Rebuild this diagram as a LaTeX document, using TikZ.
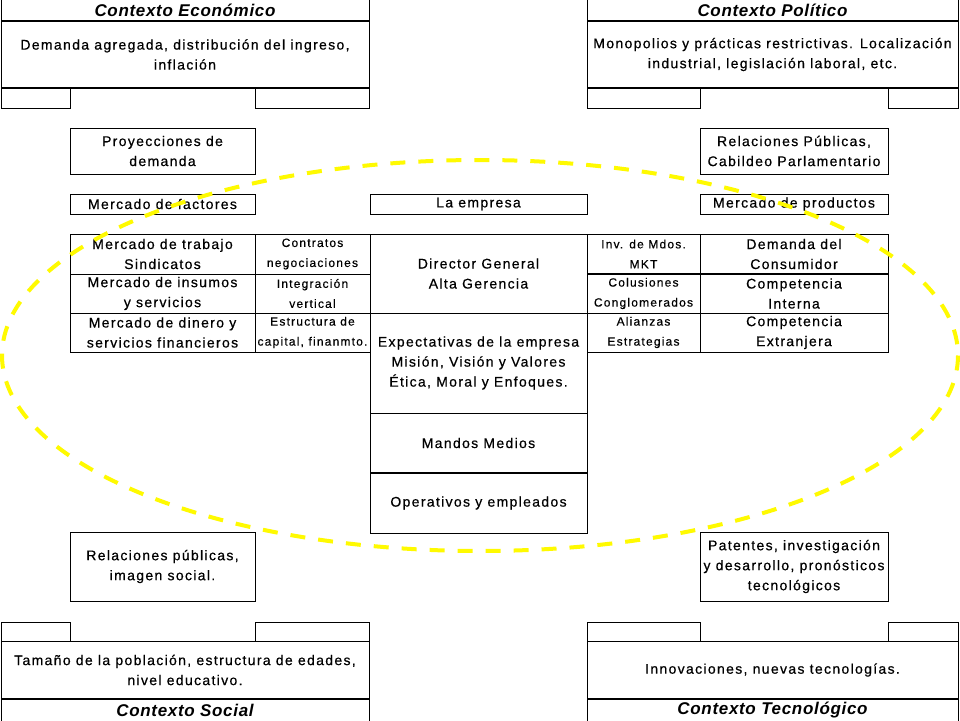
\documentclass[tikz,border=0pt]{standalone}
\usepackage{fontspec}
\setmainfont{Liberation Sans}
\newfontfamily\bodyf[LetterSpace=9.5,FakeBold=0.5]{Liberation Sans}
\newfontfamily\smallf[LetterSpace=10,FakeBold=0.4]{Liberation Sans}
\newfontfamily\hdrf[LetterSpace=4]{Liberation Sans}
\definecolor{elly}{RGB}{255,250,0}
\begin{document}
\begin{tikzpicture}[x=1pt,y=-1pt,
  frame/.style={draw, line width=1pt, inner sep=0pt, outer sep=0pt},
  body/.style={font={\bodyf\fontsize{14}{20}\selectfont}, align=center},
  small/.style={font={\smallf\fontsize{12}{20}\selectfont}, align=center},
  hdr/.style={font={\hdrf\fontsize{17}{19}\selectfont\bfseries\itshape}, inner sep=0pt},
  thickl/.style={line width=1.8pt},
  elldash/.style={draw=elly, line width=4pt, dash pattern=on 15pt off 13pt}]
\fill[white] (0,0) rectangle (960,720);
\useasboundingbox (0,0) rectangle (960,720);

% ---------- Contexto Economico ----------
\node[frame, minimum width=368, minimum height=41] (ecoH) at (185,0.5) {};
\node[hdr] (ecoHt) at (185,10.5) {Contexto Económico};
\node[frame, body, minimum width=368, minimum height=67] (ecoB) at (185,54.5)
  {Demanda agregada, distribución del ingreso,\\inflación};
\node[frame, minimum width=69, minimum height=20] (ecoT1) at (35.5,98) {};
\node[frame, minimum width=114, minimum height=20] (ecoT2) at (312,98) {};
\draw[thickl] (ecoB.north west) -- (ecoB.north east);
\draw[thickl] (ecoB.south west) -- (ecoB.south east);

% ---------- Contexto Politico ----------
\node[frame, minimum width=371, minimum height=41] (polH) at (772.5,0.5) {};
\node[hdr] (polHt) at (772.5,10.5) {Contexto Político};
\node[frame, body, minimum width=371, minimum height=67] (polB) at (772.5,54.5)
  {Monopolios y prácticas restrictivas. Localización\\industrial, legislación laboral, etc.};
\node[frame, minimum width=113, minimum height=20] (polT1) at (643.5,98) {};
\node[frame, minimum width=70, minimum height=20] (polT2) at (923,98) {};
\draw[thickl] (polB.north west) -- (polB.north east);
\draw[thickl] (polB.south west) -- (polB.south east);

% ---------- upper boxes ----------
\node[frame, body, minimum width=185, minimum height=46] (proy) at (162.5,151) {Proyecciones de\\demanda};
\node[frame, body, minimum width=185, minimum height=20] (mfac) at (162.5,204) {Mercado de factores};
\node[frame, body, minimum width=217, minimum height=20] (emp) at (478.5,204) {La empresa};
\node[frame, body, minimum width=188, minimum height=46] (relP) at (794,151) {Relaciones Públicas,\\Cabildeo Parlamentario};
\node[frame, body, minimum width=188, minimum height=20] (mprod) at (794,204) {Mercado de productos};

% ---------- left table ----------
\node[frame, body, minimum width=185, minimum height=40] (L1a) at (162.5,254) {Mercado de trabajo\\Sindicatos};
\node[frame, small, minimum width=115, minimum height=40] (L1b) at (312.5,254) {Contratos\\negociaciones};
\node[frame, body, minimum width=185, minimum height=39] (L2a) at (162.5,293.5) {Mercado de insumos\\y servicios};
\node[frame, small, minimum width=115, minimum height=39] (L2b) at (312.5,293.5) {Integración\\vertical};
\node[frame, body, minimum width=185, minimum height=39] (L3a) at (162.5,332.5) {Mercado de dinero y\\servicios financieros};
\node[frame, small, minimum width=115, minimum height=39] (L3b) at (312.5,332.5) {Estructura de\\capital, finanmto.};

% ---------- center column ----------
\node[frame, body, minimum width=217, minimum height=79] (dir) at (478.5,273.5) {Director General\\Alta Gerencia};
\node[frame, body, minimum width=217, minimum height=100] (expe) at (478.5,363)
  {Expectativas de la empresa\\Misión, Visión y Valores\\Ética, Moral y Enfoques.};
\node[frame, body, minimum width=217, minimum height=60] (mand) at (478.5,443) {Mandos Medios};
\node[frame, body, minimum width=217, minimum height=60] (oper) at (478.5,503) {Operativos y empleados};
\draw[thickl] (oper.north west) -- (oper.north east);

% ---------- right table ----------
\node[frame, small, minimum width=113, minimum height=40] (R1a) at (643.5,254) {Inv. de Mdos.\\MKT};
\node[frame, body, minimum width=188, minimum height=40] (R1b) at (794,254) {Demanda del\\Consumidor};
\node[frame, small, minimum width=113, minimum height=39] (R2a) at (643.5,293.5) {Colusiones\\Conglomerados};
\node[frame, body, minimum width=188, minimum height=39] (R2b) at (794,293.5) {Competencia\\Interna};
\node[frame, small, minimum width=113, minimum height=39] (R3a) at (643.5,332.5) {Alianzas\\Estrategias};
\node[frame, body, minimum width=188, minimum height=39] (R3b) at (794,332.5) {Competencia\\Extranjera};
\draw[thickl] (R2a.north west) -- (R2b.north east);

% ---------- lower boxes ----------
\node[frame, body, minimum width=185, minimum height=69] (relS) at (162.5,566.5) {Relaciones públicas,\\imagen social.};
\node[frame, body, minimum width=188, minimum height=69] (pat) at (794,566.5)
  {Patentes, investigación\\y desarrollo, pronósticos\\tecnológicos};

% ---------- Contexto Social ----------
\node[frame, minimum width=69, minimum height=19] (socT1) at (35.5,631.5) {};
\node[frame, minimum width=114, minimum height=19] (socT2) at (312,631.5) {};
\node[frame, body, minimum width=368, minimum height=58] (socB) at (185,670)
  {Tamaño de la población, estructura de edades,\\nivel educativo.};
\node[frame, minimum width=368, minimum height=41] (socH) at (185,719.5) {};
\node[hdr] (socHt) at (185,710) {Contexto Social};
\draw[thickl] (socH.north west) -- (socH.north east);

% ---------- Contexto Tecnologico ----------
\node[frame, minimum width=113, minimum height=19] (tecT1) at (643.5,631.5) {};
\node[frame, minimum width=70, minimum height=19] (tecT2) at (923,631.5) {};
\node[frame, body, minimum width=371, minimum height=58] (tecB) at (772.5,670)
  {Innovaciones, nuevas tecnologías.};
\node[frame, minimum width=371, minimum height=41] (tecH) at (772.5,719.5) {};
\node[hdr] (tecHt) at (772.5,710) {Contexto Tecnológico};
\draw[thickl] (tecH.north west) -- (tecH.north east);

% ---------- ellipse ----------
\draw[elldash] (480,355.5) ellipse [x radius=478, y radius=195.5];
\end{tikzpicture}
\end{document}
